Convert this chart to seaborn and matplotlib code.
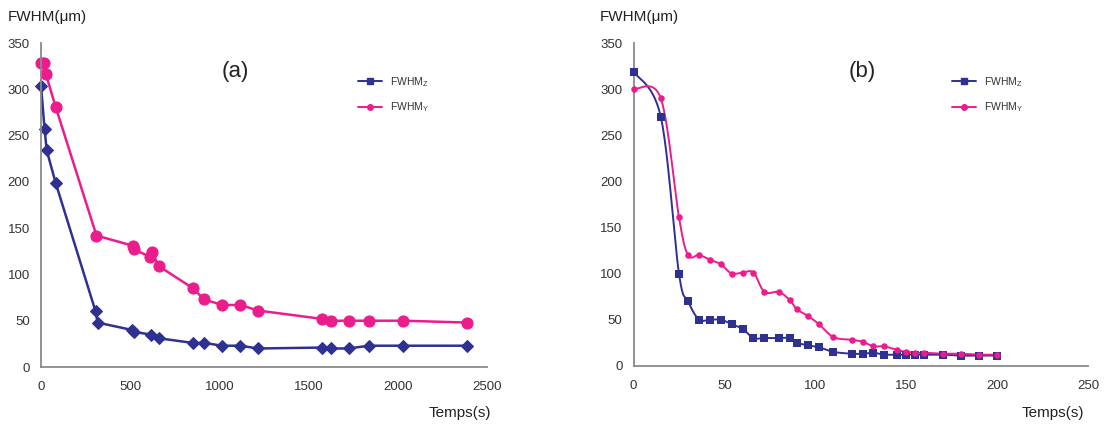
import numpy as np
import pandas as pd
import seaborn as sns
import matplotlib.pyplot as plt
from matplotlib.lines import Line2D

# --- data ---
# (a) long run, time in s
t_a_z = [0, 20, 32, 82, 306, 317, 510, 520, 617, 662, 852, 914, 1016, 1117, 1217,
         1573, 1624, 1724, 1838, 2030, 2388]
fwhm_a_z = [304, 257, 234, 199, 60, 48, 40, 38, 35, 31, 26, 26, 23, 23, 20,
            21, 20, 20, 23, 23, 23]
t_a_y = [0, 15, 28, 82, 311, 515, 520, 613, 621, 660, 852, 914, 1016, 1117, 1217,
         1573, 1624, 1724, 1838, 2030, 2388]
fwhm_a_y = [328, 328, 316, 281, 142, 131, 127, 119, 124, 109, 85, 73, 67, 67, 61,
            52, 50, 50, 50, 50, 48]

# (b) short run
t_b = [0, 15, 25, 30, 36, 42, 48, 54, 60, 66, 72, 80, 86, 90, 96, 102, 110, 120,
       126, 132, 138, 145, 150, 155, 160, 170, 180, 190, 200]
fwhm_b_z = [319, 270, 100, 70, 50, 50, 50, 45, 40, 30, 30, 30, 30, 25, 22, 20, 15, 13,
            13, 14, 12, 12, 12, 12, 12, 12, 11, 11, 11]
fwhm_b_y = [300, 290, 161, 120, 120, 115, 110, 100, 101, 101, 80, 80, 71, 61, 54, 45, 31, 28,
            26, 21, 21, 17, 15, 14, 14, 13, 13, 12, 12]

panel_labels = ["(a)", "(b)"]
x_ticks_a = [0, 500, 1000, 1500, 2000, 2500]
x_ticks_b = [0, 50, 100, 150, 200, 250]
y_ticks = [0, 50, 100, 150, 200, 250, 300, 350]

BLUE = "#2E3192"
PINK = "#EC1C8C"


def smooth(x, y, n=24):
    # excel-like smoothed line: cubic bezier through the points
    x = np.asarray(x, float)
    y = np.asarray(y, float)
    px = np.concatenate([[x[0]], x, [x[-1]]])
    py = np.concatenate([[y[0]], y, [y[-1]]])
    s = np.linspace(0, 1, n)
    xs, ys = [], []
    for i in range(len(x) - 1):
        p0 = np.array([px[i], py[i]])
        p1 = np.array([px[i + 1], py[i + 1]])
        p2 = np.array([px[i + 2], py[i + 2]])
        p3 = np.array([px[i + 3], py[i + 3]])
        c1 = p1 + (p2 - p0) / 6
        c2 = p2 - (p3 - p1) / 6
        b = ((1 - s) ** 3)[:, None] * p1 + (3 * (1 - s) ** 2 * s)[:, None] * c1 \
            + (3 * (1 - s) * s ** 2)[:, None] * c2 + (s ** 3)[:, None] * p2
        xs.append(b[:, 0])
        ys.append(b[:, 1])
    return pd.DataFrame({"t": np.concatenate(xs), "v": np.concatenate(ys)})


sns.set_style("white")
plt.rcParams["font.family"] = ["Liberation Sans", "DejaVu Sans"]

fig = plt.figure(figsize=(11.08, 4.28), dpi=100)
ax1 = fig.add_axes([41 / 1108, 61 / 428, 446 / 1108, 324 / 428])
ax2 = fig.add_axes([633.5 / 1108, 62.3 / 428, 454.5 / 1108, 322.7 / 428])

# (a) straight lines
sns.lineplot(x=t_a_z, y=fwhm_a_z, ax=ax1, color=BLUE, lw=1.8, marker="D", ms=6,
             mec=BLUE, sort=False, clip_on=False)
sns.lineplot(x=t_a_y, y=fwhm_a_y, ax=ax1, color=PINK, lw=1.8, marker="o", ms=8,
             mec=PINK, sort=False, clip_on=False)

# (b) smoothed lines
sns.lineplot(data=smooth(t_b, fwhm_b_z), x="t", y="v", ax=ax2, color=BLUE, lw=1.4,
             sort=False, estimator=None, clip_on=False)
sns.lineplot(data=smooth(t_b, fwhm_b_y), x="t", y="v", ax=ax2, color=PINK, lw=1.4,
             sort=False, estimator=None, clip_on=False)
sns.scatterplot(x=t_b, y=fwhm_b_z, ax=ax2, color=BLUE, marker="s", s=38, linewidth=0,
                zorder=3, clip_on=False)
sns.scatterplot(x=t_b, y=fwhm_b_y, ax=ax2, color=PINK, marker="o", s=22, linewidth=0,
                zorder=3, clip_on=False)

for ax, xt, lab in [(ax1, x_ticks_a, panel_labels[0]), (ax2, x_ticks_b, panel_labels[1])]:
    ax.set_xlim(xt[0], xt[-1])
    ax.set_ylim(0, 350)
    ax.set_xticks(xt)
    ax.set_yticks(y_ticks)
    ax.set_xlabel("")
    ax.set_ylabel("")
    for side in ["top", "right"]:
        ax.spines[side].set_visible(False)
    for side in ["left", "bottom"]:
        ax.spines[side].set_color("#8a8a8a")
        ax.spines[side].set_linewidth(1.3)
    ax.tick_params(direction="out", length=4, width=1.1, color="#8a8a8a",
                   labelsize=9.5, labelcolor="#333333", pad=4)
    ax.tick_params(axis="x", pad=6)
    ax.patch.set_alpha(0)
    handles = [
        Line2D([], [], color=BLUE, marker="s", ms=5, lw=1.4),
        Line2D([], [], color=PINK, marker="o", ms=4, lw=1.4),
    ]
    leg = ax.legend(handles, ["FWHM$_\\mathregular{Z}$", "FWHM$_\\mathregular{Y}$"],
                    frameon=False, fontsize=7.5, handlelength=2.3,
                    labelspacing=1.1, loc="upper left",
                    bbox_to_anchor=(0.69 if ax is ax1 else 0.68, 0.93))
    for txt in leg.get_texts():
        txt.set_color("#333333")

fig.text(235 / 1108, 1 - 72 / 428, panel_labels[0], fontsize=16, ha="center", va="center", color="#222222")
fig.text(862 / 1108, 1 - 72 / 428, panel_labels[1], fontsize=16, ha="center", va="center", color="#222222")
fig.text(8 / 1108, 1 - 17 / 428, "FWHM(\u03bcm)", fontsize=11, va="center", color="#222222")
fig.text(600 / 1108, 1 - 17 / 428, "FWHM(\u03bcm)", fontsize=11, va="center", color="#222222")
fig.text(491 / 1108, 1 - 413 / 428, "Temps(s)", fontsize=11, ha="right", va="center", color="#222222")
fig.text(1084 / 1108, 1 - 413 / 428, "Temps(s)", fontsize=11, ha="right", va="center", color="#222222")

fig.savefig("out.png", dpi=100, facecolor="white")
